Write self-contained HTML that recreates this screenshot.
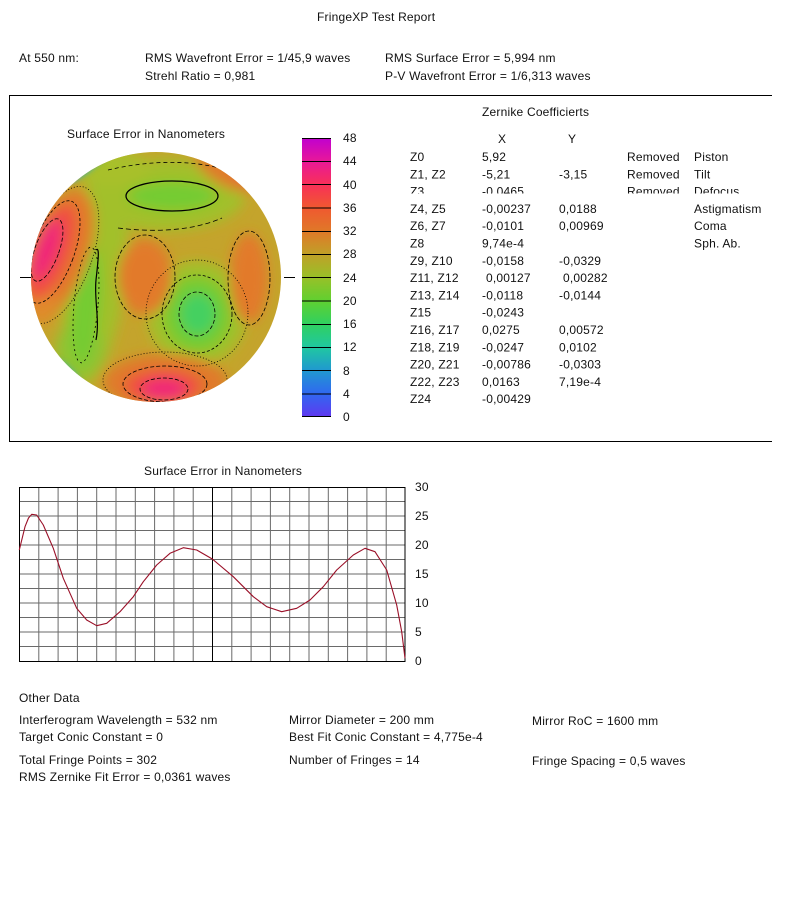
<!DOCTYPE html>
<html><head><meta charset="utf-8"><style>
html,body{margin:0;padding:0;background:#fff;}
svg{display:block;}
text{font-family:"Liberation Sans",Arial,sans-serif;font-size:12px;fill:#111;letter-spacing:0.2px;}
</style></head><body>
<svg width="800" height="897" viewBox="0 0 800 897" xmlns="http://www.w3.org/2000/svg">
<defs>
<clipPath id="cc"><circle cx="156" cy="277" r="125"/></clipPath>
<clipPath id="z3"><rect x="400" y="180" width="380" height="13.5"/></clipPath>
<filter id="bl" x="-30%" y="-30%" width="160%" height="160%"><feGaussianBlur stdDeviation="6"/></filter>
<filter id="bl2" x="-30%" y="-30%" width="160%" height="160%"><feGaussianBlur stdDeviation="3"/></filter>
<linearGradient id="cb" x1="0" y1="0" x2="0" y2="1">
<stop offset="0" stop-color="#c000d0"/>
<stop offset="0.0833" stop-color="#e81898"/>
<stop offset="0.1667" stop-color="#f83058"/>
<stop offset="0.25" stop-color="#f05830"/>
<stop offset="0.3333" stop-color="#e07828"/>
<stop offset="0.4167" stop-color="#c0a028"/>
<stop offset="0.5" stop-color="#98c028"/>
<stop offset="0.5833" stop-color="#60d030"/>
<stop offset="0.6667" stop-color="#30d060"/>
<stop offset="0.75" stop-color="#20c8a0"/>
<stop offset="0.8333" stop-color="#2098d0"/>
<stop offset="0.9167" stop-color="#3068f0"/>
<stop offset="1" stop-color="#6038f0"/>
</linearGradient>
</defs>

<!-- Header -->
<text x="317" y="21">FringeXP Test Report</text>
<text x="19" y="62">At 550 nm:</text>
<text x="145" y="62">RMS Wavefront Error = 1/45,9 waves</text>
<text x="385" y="62">RMS Surface Error = 5,994 nm</text>
<text x="145" y="80">Strehl Ratio = 0,981</text>
<text x="385" y="80">P-V Wavefront Error = 1/6,313 waves</text>

<!-- Box -->
<line x1="9" y1="95.5" x2="772" y2="95.5" stroke="#000" stroke-width="1"/>
<line x1="9" y1="441.5" x2="772" y2="441.5" stroke="#000" stroke-width="1"/>
<line x1="9.5" y1="95" x2="9.5" y2="442" stroke="#000" stroke-width="1"/>

<!-- Map title -->
<text x="67" y="138">Surface Error in Nanometers</text>

<!-- Map -->
<g clip-path="url(#cc)">
<rect x="25" y="145" width="265" height="265" fill="#c4a42c"/>
<g filter="url(#bl)">
<ellipse cx="165" cy="195" rx="80" ry="36" fill="#a2c02c"/>
<ellipse cx="95" cy="285" rx="30" ry="100" transform="rotate(8 95 285)" fill="#a2c02c"/>
<ellipse cx="197" cy="313" rx="50" ry="52" fill="#a2c02c"/>
<ellipse cx="110" cy="168" rx="40" ry="18" fill="#a8c02c"/>
<ellipse cx="80" cy="350" rx="25" ry="28" fill="#90c430"/>
<ellipse cx="172" cy="196" rx="44" ry="14" fill="#74cc30"/>
<ellipse cx="86" cy="305" rx="14" ry="60" transform="rotate(5 86 305)" fill="#74cc30"/>
<ellipse cx="197" cy="314" rx="33" ry="37" fill="#74cc30"/>
<ellipse cx="198" cy="314" rx="18" ry="21" fill="#44d060"/>
<ellipse cx="145" cy="277" rx="27" ry="38" fill="#e27a2a"/>
<ellipse cx="249" cy="278" rx="19" ry="45" fill="#e27a2a"/>
<ellipse cx="165" cy="382" rx="62" ry="28" fill="#e07a2a"/>
<ellipse cx="58" cy="255" rx="30" ry="68" transform="rotate(20 58 255)" fill="#e27a2a"/>
<ellipse cx="228" cy="168" rx="38" ry="18" transform="rotate(30 228 168)" fill="#e07a2a"/>
<ellipse cx="42" cy="300" rx="14" ry="25" fill="#e08a2a"/>
<ellipse cx="52" cy="252" rx="18" ry="50" transform="rotate(20 52 252)" fill="#f05040"/>
<ellipse cx="163" cy="386" rx="38" ry="16" fill="#f05040"/>
<ellipse cx="248" cy="172" rx="16" ry="10" transform="rotate(35 248 172)" fill="#f04848"/>
<ellipse cx="46" cy="250" rx="11" ry="32" transform="rotate(20 46 250)" fill="#f02878"/>
<ellipse cx="164" cy="389" rx="22" ry="10" fill="#f02878"/>
</g>
<g filter="url(#bl2)">
<ellipse cx="92" cy="162" rx="32" ry="5" transform="rotate(-40 92 162)" fill="#30a8c8"/>
<ellipse cx="276" cy="345" rx="5" ry="34" transform="rotate(25 276 345)" fill="#3088d8"/>
<ellipse cx="68" cy="372" rx="18" ry="4" transform="rotate(45 68 372)" fill="#30b8b0"/>
<ellipse cx="38" cy="215" rx="3" ry="14" fill="#e02890"/>
</g>
<g fill="none" stroke="#000" stroke-width="0.8">
<ellipse cx="172" cy="196" rx="46" ry="15" stroke-width="1.3"/>
<ellipse cx="145" cy="277" rx="30" ry="42" stroke-dasharray="4 2"/>
<ellipse cx="249" cy="278" rx="21" ry="47" stroke-dasharray="4 2"/>
<ellipse cx="197" cy="314" rx="18" ry="22" stroke-dasharray="4 2"/>
<ellipse cx="197" cy="314" rx="35" ry="39" stroke-dasharray="3 2"/>
<ellipse cx="197" cy="313" rx="51" ry="53" stroke-dasharray="1 2"/>
<ellipse cx="164" cy="389" rx="24" ry="11" stroke-dasharray="4 2"/>
<ellipse cx="165" cy="384" rx="42" ry="18" stroke-dasharray="4 2"/>
<ellipse cx="165" cy="380" rx="62" ry="28" stroke-dasharray="1 2"/>
<ellipse cx="47" cy="250" rx="12" ry="33" transform="rotate(20 47 250)" stroke-dasharray="4 2"/>
<ellipse cx="53" cy="252" rx="21" ry="54" transform="rotate(20 53 252)" stroke-dasharray="3 2"/>
<ellipse cx="60" cy="255" rx="32" ry="72" transform="rotate(20 60 255)" stroke-dasharray="1 2"/>
<path d="M96,250 C100,246 98,262 96,280 C94,300 100,320 96,340" stroke-width="1.2"/>
<ellipse cx="86" cy="305" rx="12" ry="58" transform="rotate(5 86 305)" stroke-dasharray="2 3"/>
<path d="M108,170 C150,160 200,158 240,175" stroke-dasharray="4 3"/>
<path d="M118,228 C150,232 190,232 222,218" stroke-dasharray="5 3"/>
</g>
</g>
<line x1="20" y1="277.5" x2="31" y2="277.5" stroke="#000"/>
<line x1="284" y1="277.5" x2="295" y2="277.5" stroke="#000"/>

<!-- Colorbar -->
<rect x="302" y="138" width="29" height="279" fill="url(#cb)"/>
<g stroke="#000" stroke-width="1">
<line x1="302" y1="138.5" x2="331" y2="138.5"/>
<line x1="302" y1="161.5" x2="331" y2="161.5"/>
<line x1="302" y1="184.5" x2="331" y2="184.5"/>
<line x1="302" y1="208" x2="331" y2="208"/>
<line x1="302" y1="231.5" x2="331" y2="231.5"/>
<line x1="302" y1="254.5" x2="331" y2="254.5"/>
<line x1="302" y1="277.5" x2="331" y2="277.5"/>
<line x1="302" y1="301" x2="331" y2="301"/>
<line x1="302" y1="324.5" x2="331" y2="324.5"/>
<line x1="302" y1="347.5" x2="331" y2="347.5"/>
<line x1="302" y1="370.5" x2="331" y2="370.5"/>
<line x1="302" y1="394" x2="331" y2="394"/>
<line x1="302" y1="416.5" x2="331" y2="416.5"/>
</g>
<text x="343" y="142">48</text>
<text x="343" y="165">44</text>
<text x="343" y="189">40</text>
<text x="343" y="212">36</text>
<text x="343" y="235">32</text>
<text x="343" y="258">28</text>
<text x="343" y="282">24</text>
<text x="343" y="305">20</text>
<text x="343" y="328">16</text>
<text x="343" y="351">12</text>
<text x="343" y="375">8</text>
<text x="343" y="398">4</text>
<text x="343" y="421">0</text>

<!-- Zernike table -->
<text x="482" y="116">Zernike Coefficierts</text>
<text x="498" y="143">X</text>
<text x="568" y="143">Y</text>

<text x="410" y="161">Z0</text><text x="482" y="161">5,92</text><text x="627" y="161">Removed</text><text x="694" y="161">Piston</text>
<text x="410" y="178.3">Z1, Z2</text><text x="482" y="178.3">-5,21</text><text x="559" y="178.3">-3,15</text><text x="627" y="178.3">Removed</text><text x="694" y="178.3">Tilt</text>
<g clip-path="url(#z3)">
<text x="410" y="195.6">Z3</text><text x="482" y="195.6">-0,0465</text><text x="627" y="195.6">Removed</text><text x="694" y="195.6">Defocus</text>
</g>
<text x="410" y="212.9">Z4, Z5</text><text x="482" y="212.9">-0,00237</text><text x="559" y="212.9">0,0188</text><text x="694" y="212.9">Astigmatism</text>
<text x="410" y="230.2">Z6, Z7</text><text x="482" y="230.2">-0,0101</text><text x="559" y="230.2">0,00969</text><text x="694" y="230.2">Coma</text>
<text x="410" y="247.5">Z8</text><text x="482" y="247.5">9,74e-4</text><text x="694" y="247.5">Sph. Ab.</text>
<text x="410" y="264.8">Z9, Z10</text><text x="482" y="264.8">-0,0158</text><text x="559" y="264.8">-0,0329</text>
<text x="410" y="282.1">Z11, Z12</text><text x="486" y="282.1">0,00127</text><text x="563" y="282.1">0,00282</text>
<text x="410" y="299.4">Z13, Z14</text><text x="482" y="299.4">-0,0118</text><text x="559" y="299.4">-0,0144</text>
<text x="410" y="316.7">Z15</text><text x="482" y="316.7">-0,0243</text>
<text x="410" y="334">Z16, Z17</text><text x="482" y="334">0,0275</text><text x="559" y="334">0,00572</text>
<text x="410" y="351.3">Z18, Z19</text><text x="482" y="351.3">-0,0247</text><text x="559" y="351.3">0,0102</text>
<text x="410" y="368.6">Z20, Z21</text><text x="482" y="368.6">-0,00786</text><text x="559" y="368.6">-0,0303</text>
<text x="410" y="385.9">Z22, Z23</text><text x="482" y="385.9">0,0163</text><text x="559" y="385.9">7,19e-4</text>
<text x="410" y="403.2">Z24</text><text x="482" y="403.2">-0,00429</text>

<!-- Line chart -->
<text x="144" y="475">Surface Error in Nanometers</text>
<g stroke="#6a6a6a" stroke-width="1">
<line x1="38.8" y1="487" x2="38.8" y2="661"/>
<line x1="58.1" y1="487" x2="58.1" y2="661"/>
<line x1="77.4" y1="487" x2="77.4" y2="661"/>
<line x1="96.7" y1="487" x2="96.7" y2="661"/>
<line x1="116" y1="487" x2="116" y2="661"/>
<line x1="135.3" y1="487" x2="135.3" y2="661"/>
<line x1="154.6" y1="487" x2="154.6" y2="661"/>
<line x1="173.9" y1="487" x2="173.9" y2="661"/>
<line x1="193.2" y1="487" x2="193.2" y2="661"/>
<line x1="231.8" y1="487" x2="231.8" y2="661"/>
<line x1="251.1" y1="487" x2="251.1" y2="661"/>
<line x1="270.4" y1="487" x2="270.4" y2="661"/>
<line x1="289.7" y1="487" x2="289.7" y2="661"/>
<line x1="309" y1="487" x2="309" y2="661"/>
<line x1="328.3" y1="487" x2="328.3" y2="661"/>
<line x1="347.6" y1="487" x2="347.6" y2="661"/>
<line x1="366.9" y1="487" x2="366.9" y2="661"/>
<line x1="386.2" y1="487" x2="386.2" y2="661"/>
<line x1="19" y1="501.5" x2="405" y2="501.5"/>
<line x1="19" y1="516" x2="405" y2="516"/>
<line x1="19" y1="530.5" x2="405" y2="530.5"/>
<line x1="19" y1="545" x2="405" y2="545"/>
<line x1="19" y1="559.5" x2="405" y2="559.5"/>
<line x1="19" y1="574" x2="405" y2="574"/>
<line x1="19" y1="588.5" x2="405" y2="588.5"/>
<line x1="19" y1="603" x2="405" y2="603"/>
<line x1="19" y1="617.5" x2="405" y2="617.5"/>
<line x1="19" y1="632" x2="405" y2="632"/>
<line x1="19" y1="646.5" x2="405" y2="646.5"/>
</g>
<line x1="212.5" y1="487" x2="212.5" y2="661" stroke="#000"/>
<rect x="19.5" y="487.5" width="385.5" height="174" fill="none" stroke="#000" stroke-width="1"/>
<polyline fill="none" stroke="#9a1028" stroke-width="1.1" stroke-linejoin="round" points="19.3,550 25,526.7 28.5,518 31.7,514.3 36.7,515 43.3,525 53.3,548.3 63.3,578.3 76.7,608.3 86.7,620 96.7,625.7 106.7,623.3 120,611.7 133.3,596.7 143.3,581.7 156.7,565 170,553.3 183.3,547.7 196.7,550 212.3,559 233.3,576.7 253.3,596.7 266.7,606.7 281.7,611.7 296.7,608.3 310,600 323.3,586.7 336.7,570 353.3,555 365,548.3 375,551.7 386.7,570 396.7,605 401.7,631.7 405,658.3"/>
<text x="415" y="491">30</text>
<text x="415" y="520">25</text>
<text x="415" y="549">20</text>
<text x="415" y="578">15</text>
<text x="415" y="607">10</text>
<text x="415" y="636">5</text>
<text x="415" y="665">0</text>

<!-- Other data -->
<text x="19" y="702">Other Data</text>
<text x="19" y="724">Interferogram Wavelength = 532 nm</text>
<text x="19" y="741">Target Conic Constant = 0</text>
<text x="19" y="764">Total Fringe Points = 302</text>
<text x="19" y="781">RMS Zernike Fit Error = 0,0361 waves</text>
<text x="289" y="724">Mirror Diameter = 200 mm</text>
<text x="289" y="741">Best Fit Conic Constant = 4,775e-4</text>
<text x="289" y="764">Number of Fringes = 14</text>
<text x="532" y="725">Mirror RoC = 1600 mm</text>
<text x="532" y="765">Fringe Spacing = 0,5 waves</text>
</svg>
</body></html>
